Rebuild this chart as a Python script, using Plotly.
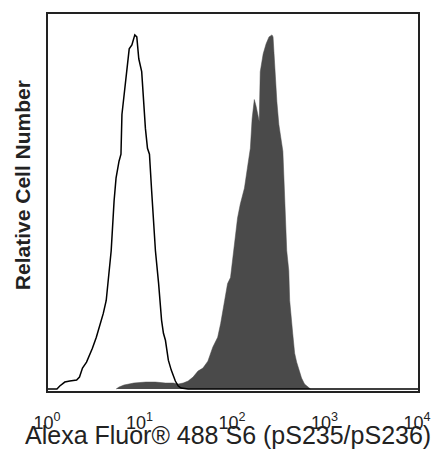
import plotly.graph_objects as go

# Unstained / isotype control (open histogram)
open_x = [1.00, 1.25, 1.34, 1.52, 1.72, 2.04, 2.19, 2.36, 2.61, 2.81, 3.02, 3.33, 3.59, 3.96,
          4.26, 4.59, 4.82, 5.18, 5.44, 5.86, 6.15, 6.30, 6.85, 7.20, 7.55, 8.07, 8.68, 9.12,
          9.58, 10.3, 10.8, 11.3, 11.9, 12.5, 13.2, 13.8, 14.5, 15.7, 16.9, 17.7, 18.6, 20.0,
          21.5, 23.8, 25.6, 27.5, 32.7, 10000]
open_y = [0, 0, 3, 7, 8, 9, 12, 21, 27, 34, 41, 52, 62, 76,
          89, 119, 139, 189, 212, 229, 236, 276, 304, 324, 342, 346, 356, 354,
          332, 319, 286, 262, 242, 236, 199, 169, 139, 106, 69, 56, 49, 29,
          19, 8, 3, 1, 0, 0]

# Alexa Fluor 488 S6 (pS235/pS236) stained (filled histogram)
fill_x = [5.45, 5.86, 6.63, 8.47, 11.4, 14.5, 18.6, 22.6, 25.6, 28.9, 32.7, 37.0, 41.8, 47.3,
          53.5, 60.4, 68.3, 73.6, 81.2, 87.4, 94.0, 98.8, 106, 112, 120, 133, 143, 154, 161,
          170, 178, 183, 192, 197, 212, 228, 245, 264, 271, 277, 284, 298, 313, 329, 346,
          354, 363, 381, 401, 410, 442, 464, 488, 525, 551, 593, 655, 688]
fill_y = [0, 2, 4, 6, 7, 7, 6, 6, 5, 6, 8, 12, 18, 21,
          28, 42, 52, 66, 89, 106, 112, 129, 156, 172, 186, 202, 222, 242, 272,
          291, 284, 279, 269, 319, 337, 347, 354, 356, 354, 339, 319, 289, 266, 252, 239,
          216, 182, 139, 119, 89, 56, 36, 27, 16, 11, 5, 1, 0]

tick_vals = [1, 10, 100, 1000, 10000]
tick_text = ["10<sup>0</sup>", "10<sup>1</sup>", "10<sup>2</sup>", "10<sup>3</sup>", "10<sup>4</sup>"]
x_title = "Alexa Fluor® 488 S6 (pS235/pS236)"
y_title = "Relative Cell Number"

fig = go.Figure()
fig.add_trace(go.Scatter(x=fill_x, y=fill_y, mode="lines", fill="tozeroy",
                         fillcolor="#4a4a4a", line=dict(color="#4a4a4a", width=0.5),
                         showlegend=False))
fig.add_trace(go.Scatter(x=open_x, y=open_y, mode="lines",
                         line=dict(color="black", width=1.5), showlegend=False))

fig.update_layout(
    width=443, height=455,
    margin=dict(l=48, r=20, t=12, b=64),
    paper_bgcolor="white", plot_bgcolor="white",
    font=dict(family="Liberation Sans, Arial, sans-serif", color="black"),
    xaxis=dict(type="log", range=[0, 4], tickvals=tick_vals, ticktext=tick_text,
               showgrid=False, zeroline=False, showline=True, mirror=True,
               linecolor="#222", linewidth=2, ticks="outside", ticklen=14,
               tickcolor="rgba(0,0,0,0)", tickfont=dict(size=18, color="#222"),
               ticklabelshift=-1),
    yaxis=dict(range=[-2, 377], showticklabels=False, showgrid=False, zeroline=False,
               showline=True, mirror=True, linecolor="#222", linewidth=2, ticks=""),
    annotations=[
        dict(text=x_title, xref="paper", yref="paper", x=0.5, y=0, xanchor="center",
             yanchor="top", xshift=-5, yshift=-28, showarrow=False,
             font=dict(size=25, color="#222")),
        dict(text="<b>" + y_title + "</b>", xref="paper", yref="paper", x=0, y=0.546,
             xanchor="center", yanchor="middle", xshift=-26, textangle=-90,
             showarrow=False, font=dict(size=21, color="#222")),
    ],
)

fig.write_html("out.html", config={"displayModeBar": False},
               post_script="document.body.style.margin='0';")
